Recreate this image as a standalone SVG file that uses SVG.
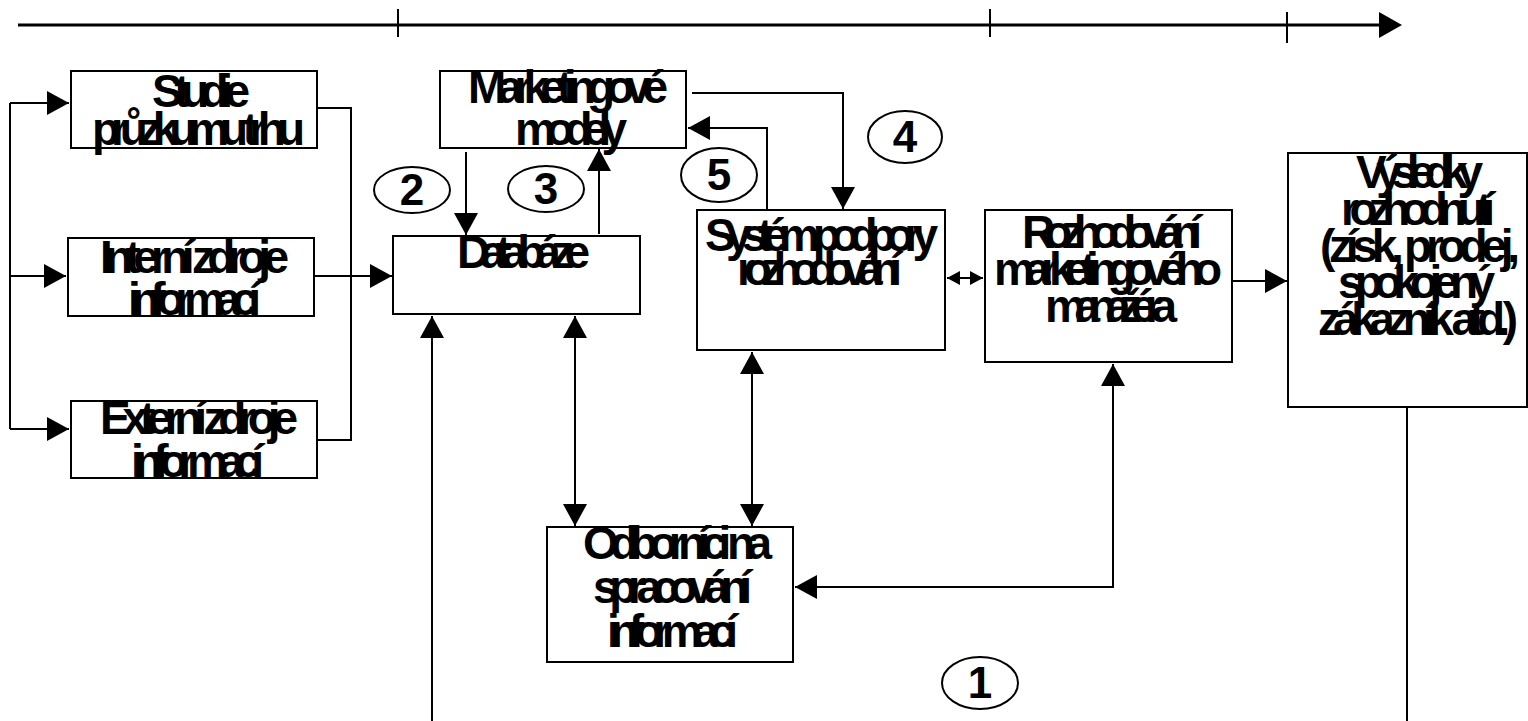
<svg xmlns="http://www.w3.org/2000/svg" width="1528" height="721" viewBox="0 0 1528 721">
<style>
.box{fill:#fff;stroke:#000;stroke-width:2}
.t{font-family:"Liberation Sans",Arial,sans-serif;font-size:46px;font-weight:bold;fill:#000}
.num{font-family:"Liberation Sans",Arial,sans-serif;font-size:44px;font-weight:bold;fill:#000;text-anchor:middle}
.ell{fill:#fff;stroke:#000;stroke-width:2}
.ln{fill:none;stroke:#000;stroke-width:2}
</style>
<defs>
<marker id="arr" markerUnits="userSpaceOnUse" markerWidth="22" markerHeight="24" refX="22" refY="12" orient="auto-start-reverse"><path d="M0,0 L22,12 L0,24 z" fill="#000"/></marker>
<marker id="arrs" markerUnits="userSpaceOnUse" markerWidth="13" markerHeight="14" refX="13" refY="7" orient="auto-start-reverse"><path d="M0,0 L13,7 L0,14 z" fill="#000"/></marker>
<marker id="arrt" markerUnits="userSpaceOnUse" markerWidth="23" markerHeight="26" refX="1" refY="13" orient="auto"><path d="M0,0 L23,13 L0,26 z" fill="#000"/></marker>
</defs>

<g id="timeline">
<line x1="18" y1="25" x2="1380" y2="25" stroke="#000" stroke-width="3" marker-end="url(#arrt)"/>
<line x1="398" y1="9" x2="398" y2="37" class="ln" stroke-width="1.5"/>
<line x1="990" y1="9" x2="990" y2="37" class="ln" stroke-width="1.5"/>
<line x1="1287" y1="12" x2="1287" y2="43" class="ln" stroke-width="1.5"/>
</g>

<g id="connectors">
<path class="ln" d="M10 103 H69" marker-end="url(#arr)"/>
<path class="ln" d="M10 276 H66" marker-end="url(#arr)"/>
<path class="ln" d="M10 429 H69" marker-end="url(#arr)"/>
<path class="ln" d="M10 103 V429"/>
<path class="ln" d="M318 108 H351 V440 H318"/>
<path class="ln" d="M315 276 H392" marker-end="url(#arr)"/>
<path class="ln" d="M466 152 V235" marker-end="url(#arr)"/>
<path class="ln" d="M599 234 V149" marker-end="url(#arr)"/>
<path class="ln" d="M692 93 H843 V209" marker-end="url(#arr)"/>
<path class="ln" d="M767 210 V128 H688" marker-end="url(#arr)"/>
<path class="ln" d="M947 278 H983" marker-start="url(#arrs)" marker-end="url(#arrs)"/>
<path class="ln" d="M1233 281 H1287" marker-end="url(#arr)"/>
<path class="ln" d="M575 316 V526" marker-start="url(#arr)" marker-end="url(#arr)"/>
<path class="ln" d="M752 352 V526" marker-start="url(#arr)" marker-end="url(#arr)"/>
<path class="ln" d="M1113 364 V587 H795" marker-start="url(#arr)" marker-end="url(#arr)"/>
<path class="ln" d="M432 721 V316" marker-end="url(#arr)"/>
<path class="ln" d="M1407 408 V721"/>
</g>

<g id="studie">
<rect class="box" x="71" y="71" width="246" height="77"/>
<text class="t" x="152" y="107" textLength="98" lengthAdjust="spacing">Studie</text>
<text class="t" x="92" y="145" textLength="213" lengthAdjust="spacing">průzkumu trhu</text>
</g>
<g id="interni">
<rect class="box" x="68" y="238" width="246" height="78"/>
<text class="t" x="100" y="273" textLength="189" lengthAdjust="spacing">Interní zdroje</text>
<text class="t" x="128" y="315" textLength="133" lengthAdjust="spacing">informací</text>
</g>
<g id="externi">
<rect class="box" x="71" y="401" width="246" height="77"/>
<text class="t" x="100" y="434" textLength="198" lengthAdjust="spacing">Externí zdroje</text>
<text class="t" x="131" y="477" textLength="133" lengthAdjust="spacing">informací</text>
</g>
<g id="marketing">
<rect class="box" x="440" y="71" width="246" height="77"/>
<text class="t" x="468" y="103" textLength="200" lengthAdjust="spacing">Marketingové</text>
<text class="t" x="515" y="145" textLength="112" lengthAdjust="spacing">modely</text>
</g>
<g id="databaze">
<rect class="box" x="393" y="236" width="247" height="78"/>
<text class="t" x="457" y="268" textLength="133" lengthAdjust="spacing">Databáze</text>
</g>
<g id="system">
<rect class="box" x="697" y="210" width="248" height="140"/>
<text class="t" x="705" y="251" textLength="233" lengthAdjust="spacing">Systém podpory</text>
<text class="t" x="737" y="285" textLength="165" lengthAdjust="spacing">rozhodování</text>
</g>
<g id="rozhodovani">
<rect class="box" x="985" y="210" width="247" height="152"/>
<text class="t" x="1022" y="248" textLength="180" lengthAdjust="spacing">Rozhodování</text>
<text class="t" x="994" y="285" textLength="228" lengthAdjust="spacing">marketingového</text>
<text class="t" x="1045" y="322" textLength="132" lengthAdjust="spacing">manažéra</text>
</g>
<g id="vysledky">
<rect class="box" x="1288" y="153" width="239" height="254"/>
<text class="t" x="1356" y="188" textLength="127" lengthAdjust="spacing">Výsledky</text>
<text class="t" x="1341" y="225" textLength="154" lengthAdjust="spacing">rozhodnutí</text>
<text class="t" x="1320" y="262" textLength="200" lengthAdjust="spacing">(získ, prodej,</text>
<text class="t" x="1338" y="298" textLength="157" lengthAdjust="spacing">spokojený</text>
<text class="t" x="1318" y="335" textLength="200" lengthAdjust="spacing">zákazník atd.)</text>
</g>
<g id="odbornici">
<rect class="box" x="547" y="527" width="246" height="135"/>
<text class="t" x="583" y="559" textLength="189" lengthAdjust="spacing">Odborníci na</text>
<text class="t" x="593" y="603" textLength="159" lengthAdjust="spacing">spracování</text>
<text class="t" x="607" y="647" textLength="131" lengthAdjust="spacing">informací</text>
</g>

<g id="n2"><ellipse class="ell" cx="412" cy="190" rx="38" ry="23"/><text class="num" x="412" y="205">2</text></g>
<g id="n3"><ellipse class="ell" cx="546" cy="189" rx="38" ry="23"/><text class="num" x="546" y="204">3</text></g>
<g id="n4"><ellipse class="ell" cx="905" cy="137" rx="37" ry="26"/><text class="num" x="905" y="152">4</text></g>
<g id="n5"><ellipse class="ell" cx="719" cy="175" rx="38" ry="27"/><text class="num" x="719" y="190">5</text></g>
<g id="n1"><ellipse class="ell" cx="980" cy="683" rx="38" ry="26"/><text class="num" x="980" y="698">1</text></g>
</svg>
